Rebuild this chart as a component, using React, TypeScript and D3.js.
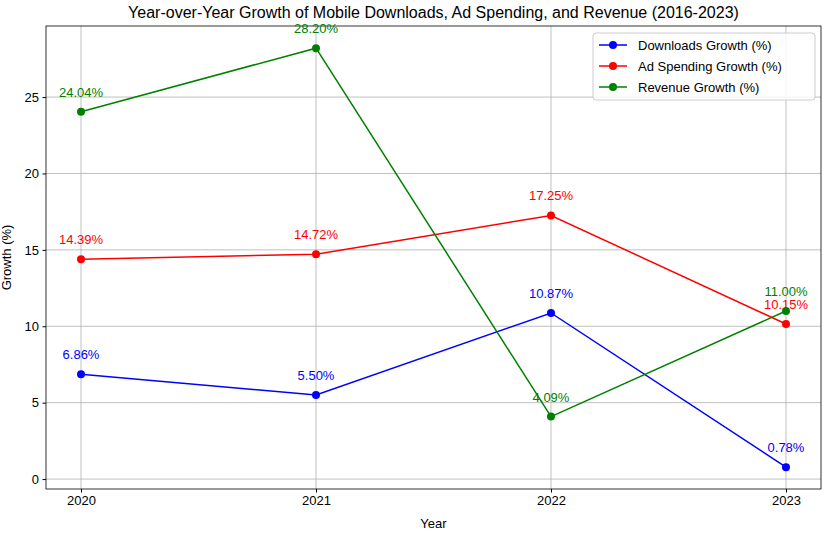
import { useEffect, useRef } from "react";
import * as d3 from "d3";

const years = [2020, 2021, 2022, 2023];
const downloads = [6.86, 5.5, 10.87, 0.78];
const adSpending = [14.39, 14.72, 17.25, 10.15];
const revenue = [24.04, 28.2, 4.09, 11.0];
const yTicks = [0, 5, 10, 15, 20, 25];

const series = [
  { name: "Downloads Growth (%)", values: downloads, color: "blue" },
  { name: "Ad Spending Growth (%)", values: adSpending, color: "red" },
  { name: "Revenue Growth (%)", values: revenue, color: "green" },
];

export default function App() {
  const svgRef = useRef<SVGSVGElement | null>(null);
  const width = 832;
  const height = 541;
  const margin = { top: 26, right: 11, bottom: 52, left: 46 };

  useEffect(() => {
    const svg = d3.select(svgRef.current);
    svg.selectAll("*").remove();
    const font = "Liberation Sans, Arial, sans-serif";

    const x = d3.scaleLinear().domain([2019.851, 2023.149]).range([margin.left, width - margin.right]);
    const y = d3.scaleLinear().domain([-0.65, 29.65]).range([height - margin.bottom, margin.top]);

    const g = svg.append("g");
    // grid
    years.forEach((yr) => {
      g.append("line").attr("x1", x(yr)).attr("x2", x(yr))
        .attr("y1", margin.top).attr("y2", height - margin.bottom)
        .attr("stroke", "#b0b0b0").attr("stroke-width", 0.8);
    });
    yTicks.forEach((t) => {
      g.append("line").attr("x1", margin.left).attr("x2", width - margin.right)
        .attr("y1", y(t)).attr("y2", y(t))
        .attr("stroke", "#b0b0b0").attr("stroke-width", 0.8);
    });

    // axes
    const xAxis = d3.axisBottom(x).tickValues(years).tickFormat(d3.format("d")).tickSize(3.5).tickPadding(3.5);
    const gx = svg.append("g").attr("transform", `translate(0,${height - margin.bottom})`).call(xAxis);
    const yAxis = d3.axisLeft(y).tickValues(yTicks).tickSize(3.5).tickPadding(3.5);
    const gy = svg.append("g").attr("transform", `translate(${margin.left},0)`).call(yAxis);
    [gx, gy].forEach((a) => {
      a.select(".domain").remove();
      a.selectAll("text").style("font-size", "13px").style("font-family", font).attr("fill", "#000");
    });
    svg.append("rect").attr("x", margin.left).attr("y", margin.top)
      .attr("width", width - margin.left - margin.right).attr("height", height - margin.top - margin.bottom)
      .attr("fill", "none").attr("stroke", "#000").attr("stroke-width", 0.8);

    // series
    const line = d3.line<number>().x((_, i) => x(years[i])).y((d) => y(d));
    series.forEach((s) => {
      svg.append("path").datum(s.values).attr("d", line)
        .attr("fill", "none").attr("stroke", s.color).attr("stroke-width", 1.5);
      s.values.forEach((v, i) => {
        svg.append("circle").attr("cx", x(years[i])).attr("cy", y(v)).attr("r", 4).attr("fill", s.color);
        svg.append("text").attr("x", x(years[i])).attr("y", y(v) - 15)
          .attr("text-anchor", "middle").attr("font-size", 13).attr("font-family", font)
          .attr("fill", s.color).text(`${v.toFixed(2)}%`);
      });
    });

    // labels
    svg.append("text").attr("x", (margin.left + width - margin.right) / 2).attr("y", 18)
      .attr("text-anchor", "middle").attr("font-size", 16).attr("font-family", font).text(
        "Year-over-Year Growth of Mobile Downloads, Ad Spending, and Revenue (2016-2023)");
    svg.append("text").attr("x", (margin.left + width - margin.right) / 2).attr("y", 528)
      .attr("text-anchor", "middle").attr("font-size", 13).attr("font-family", font).text("Year");
    svg.append("text").attr("transform", `translate(11,${(margin.top + height - margin.bottom) / 2}) rotate(-90)`)
      .attr("text-anchor", "middle").attr("font-size", 13).attr("font-family", font).text("Growth (%)");

    // legend
    const lg = svg.append("g").attr("transform", "translate(593,33)");
    lg.append("rect").attr("width", 222).attr("height", 67).attr("rx", 3)
      .attr("fill", "white").attr("fill-opacity", 0.8).attr("stroke", "#ccc");
    series.forEach((s, i) => {
      const ly = 12 + i * 21;
      lg.append("line").attr("x1", 6).attr("x2", 34).attr("y1", ly).attr("y2", ly)
        .attr("stroke", s.color).attr("stroke-width", 1.5);
      lg.append("circle").attr("cx", 20).attr("cy", ly).attr("r", 4).attr("fill", s.color);
      lg.append("text").attr("x", 45).attr("y", ly + 4.5).attr("font-size", 13)
        .attr("font-family", font).text(s.name);
    });
  }, []);

  return (
    <svg ref={svgRef} width={width} height={height}
      style={{ position: "absolute", left: 0, top: 0, background: "#fff" }} />
  );
}
